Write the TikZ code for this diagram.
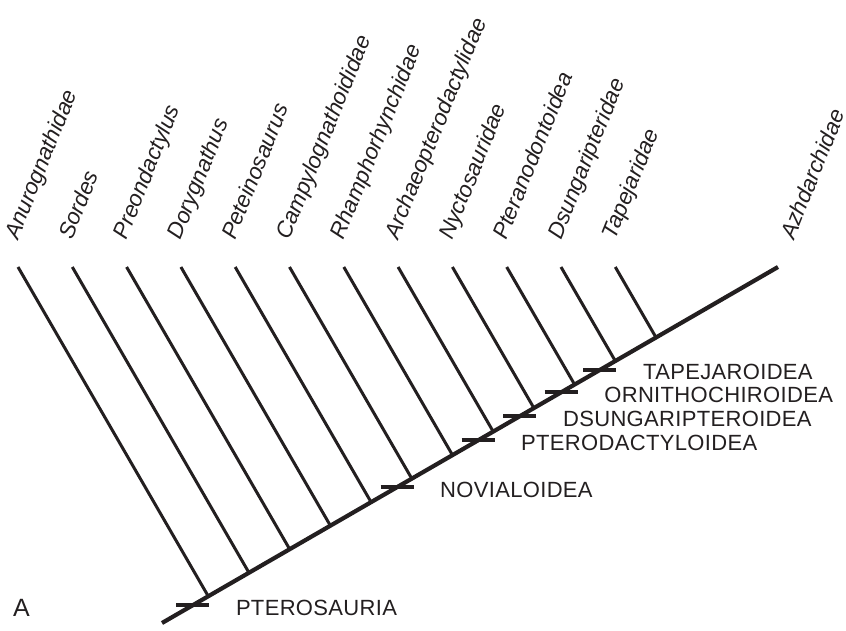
\documentclass[tikz,border=0pt]{standalone}
\usepackage{fontspec}
\setmainfont{Liberation Sans}
\usetikzlibrary{calc,positioning}
\definecolor{ink}{HTML}{231F20}

\begin{document}
\begin{tikzpicture}[
  x=1pt, y=1pt,
  every node/.style={text=ink, inner sep=0pt},
  stem/.style={draw=ink, line width=4.2pt},
  branch/.style={draw=ink, line width=3pt},
  apomorphy/.style={draw=ink, line width=4pt},
  taxon/.style={anchor=base west, rotate=68, font=\fontsize{22.5}{27}\selectfont\itshape},
  clade/.style={anchor=base west, font=\fontsize{22}{26}\selectfont\addfontfeature{LetterSpace=1.5}}
]
\useasboundingbox (0,0) rectangle (846,630);

\coordinate (root) at (162,7);
\coordinate (apex) at (778,363);
\draw[stem] (root) -- (apex);

% terminal branches, perpendicular to the stem
\foreach \name [count=\i from 0] in {Anurognathidae,Sordes,Preondactylus,Dorygnathus,
    Peteinosaurus,Campylognathoididae,Rhamphorhynchidae,Archaeopterodactylidae,
    Nyctosauridae,Pteranodontoidea,Dsungaripteridae,Tapejaridae} {
  \coordinate (tip\i) at ({18+54.3*\i},363);
  \coordinate (foot\i) at ($(root)!(tip\i)!(apex)$);
  \draw[branch] (tip\i) -- (foot\i);
  \node[taxon] (taxon\i) at ($(tip\i)+(0,26)$) {\name};
}
\node[taxon] (azhdarchidae) at ($(apex)+(16,26)$) {Azhdarchidae};

% bars and clade names
\foreach \t/\clade/\cladename in {0.050/pterosauria/PTEROSAURIA,
    0.3815/novialoidea/NOVIALOIDEA,
    0.513/pterodactyloidea/PTERODACTYLOIDEA,
    0.581/dsungaripteroidea/DSUNGARIPTEROIDEA,
    0.648/ornithochiroidea/ORNITHOCHIROIDEA,
    0.711/tapejaroidea/TAPEJAROIDEA} {
  \coordinate (bar-\clade) at ($(root)!\t!(apex)$);
  \draw[apomorphy] ($(bar-\clade)+(-16.5,0)$) -- ($(bar-\clade)+(16.5,0)$);
  \node[clade] (\clade) at ($(bar-\clade)+(43,-10)$) {\cladename};
}

\node[anchor=base west, font=\fontsize{25}{30}\selectfont] (panel) at (13,14) {A};
\end{tikzpicture}
\end{document}
